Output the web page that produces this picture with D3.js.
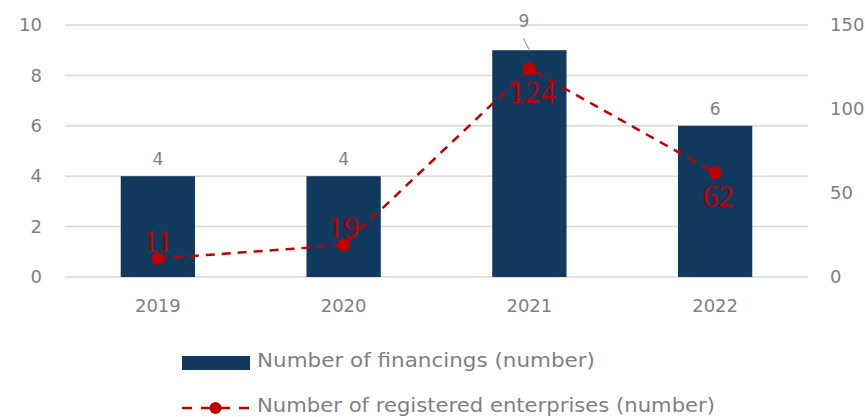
<!DOCTYPE html>
<html><head><meta charset="utf-8">
<script src="https://cdn.jsdelivr.net/npm/d3@7"></script>
<style>
html,body{margin:0;padding:0;background:#fff;}
text{font-family:"DejaVu Sans",sans-serif;}
</style></head>
<body><svg id="c" width="865" height="417"></svg>
<script>
const years = ["2019", "2020", "2021", "2022"];
const financings = [4, 4, 9, 6];
const enterprises = [11, 19, 124, 62];
const leftTicks = [0, 2, 4, 6, 8, 10];
const rightTicks = [0, 50, 100, 150];
const seriesNames = ["Number of financings (number)", "Number of registered enterprises (number)"];

(function(){
const svg = d3.select("#c");
const pL = 65, pR = 808, pT = 25, pB = 277;
const gray = "#7f7f7f", barColor = "#12395e", red = "#c00000";
const FF = "DejaVu Sans";

const x = d3.scaleBand().domain(years).range([pL, pR]).paddingInner(0.6).paddingOuter(0.3);
const yL = d3.scaleLinear().domain([0, 10]).range([pB, pT]);
const yR = d3.scaleLinear().domain([0, 150]).range([pB, pT]);

svg.append("g").selectAll("line").data(leftTicks).join("line")
  .attr("x1", pL).attr("x2", pR)
  .attr("y1", d => yL(d)).attr("y2", d => yL(d))
  .attr("stroke", "#d9d9d9").attr("stroke-width", 1.5);

const gL = svg.append("g").attr("transform", `translate(${pL},0)`)
  .call(d3.axisLeft(yL).tickValues(leftTicks).tickSize(0).tickPadding(23));
gL.select(".domain").remove();
gL.selectAll("text").attr("fill", gray).attr("font-size", 18).attr("font-family", FF);

const gR = svg.append("g").attr("transform", `translate(${pR},0)`)
  .call(d3.axisRight(yR).tickValues(rightTicks).tickSize(0).tickPadding(22));
gR.select(".domain").remove();
gR.selectAll("text").attr("fill", gray).attr("font-size", 18).attr("font-family", FF);

const gX = svg.append("g").attr("transform", `translate(0,${pB})`)
  .call(d3.axisBottom(x).tickSize(0).tickPadding(22));
gX.select(".domain").remove();
gX.selectAll("text").attr("fill", gray).attr("font-size", 18).attr("font-family", FF);

svg.append("g").selectAll("rect").data(years).join("rect")
  .attr("x", d => x(d)).attr("width", x.bandwidth())
  .attr("y", (d, i) => yL(financings[i]))
  .attr("height", (d, i) => pB - yL(financings[i]))
  .attr("fill", barColor);

years.forEach((yr, i) => {
  const cx = x(yr) + x.bandwidth() / 2;
  const barTop = yL(financings[i]);
  const clash = Math.abs(yR(enterprises[i]) - barTop) < 25;
  if (clash) {
    svg.append("line").attr("x1", cx - 6).attr("y1", barTop - 12).attr("x2", cx).attr("y2", barTop)
      .attr("stroke", "#a6a6a6").attr("stroke-width", 1.2);
    svg.append("text").attr("x", cx - 5.5).attr("y", barTop - 23).attr("text-anchor", "middle")
      .attr("fill", gray).attr("font-size", 17).text(financings[i]);
  } else {
    svg.append("text").attr("x", cx).attr("y", barTop - 11).attr("text-anchor", "middle")
      .attr("fill", gray).attr("font-size", 17).text(financings[i]);
  }
});

const line = d3.line().x((d, i) => x(years[i]) + x.bandwidth() / 2).y(d => yR(d));
svg.append("path").datum(enterprises).attr("d", line)
  .attr("fill", "none").attr("stroke", red).attr("stroke-width", 2.5).attr("stroke-dasharray", "9,7");
svg.append("g").selectAll("circle").data(enterprises).join("circle")
  .attr("cx", (d, i) => x(years[i]) + x.bandwidth() / 2).attr("cy", d => yR(d))
  .attr("r", 6.5).attr("fill", red);

svg.append("g").selectAll("text").data(enterprises).join("text")
  .attr("x", (d, i) => x(years[i]) + x.bandwidth() / 2 + (d > 50 ? 3 : 0))
  .attr("y", d => d > 50 ? yR(d) + 34 : yR(d) - 7)
  .attr("text-anchor", "middle")
  .style("font-family", "'Liberation Serif', serif")
  .attr("font-size", 31).attr("fill", red).text(d => d);

const lg = svg.append("g");
lg.append("rect").attr("x", 182).attr("y", 356).attr("width", 68).attr("height", 14).attr("fill", barColor);
lg.append("text").attr("x", 257).attr("y", 367).attr("fill", gray)
  .attr("font-size", 19).attr("textLength", 338).attr("lengthAdjust", "spacingAndGlyphs").text(seriesNames[0]);
lg.append("line").attr("x1", 182).attr("x2", 249).attr("y1", 408).attr("y2", 408)
  .attr("stroke", red).attr("stroke-width", 2.5).attr("stroke-dasharray", "10,9");
lg.append("circle").attr("cx", 215.5).attr("cy", 408).attr("r", 6).attr("fill", red);
lg.append("text").attr("x", 257).attr("y", 412).attr("fill", gray)
  .attr("font-size", 19).attr("textLength", 458).attr("lengthAdjust", "spacingAndGlyphs").text(seriesNames[1]);
})();
</script></body></html>
